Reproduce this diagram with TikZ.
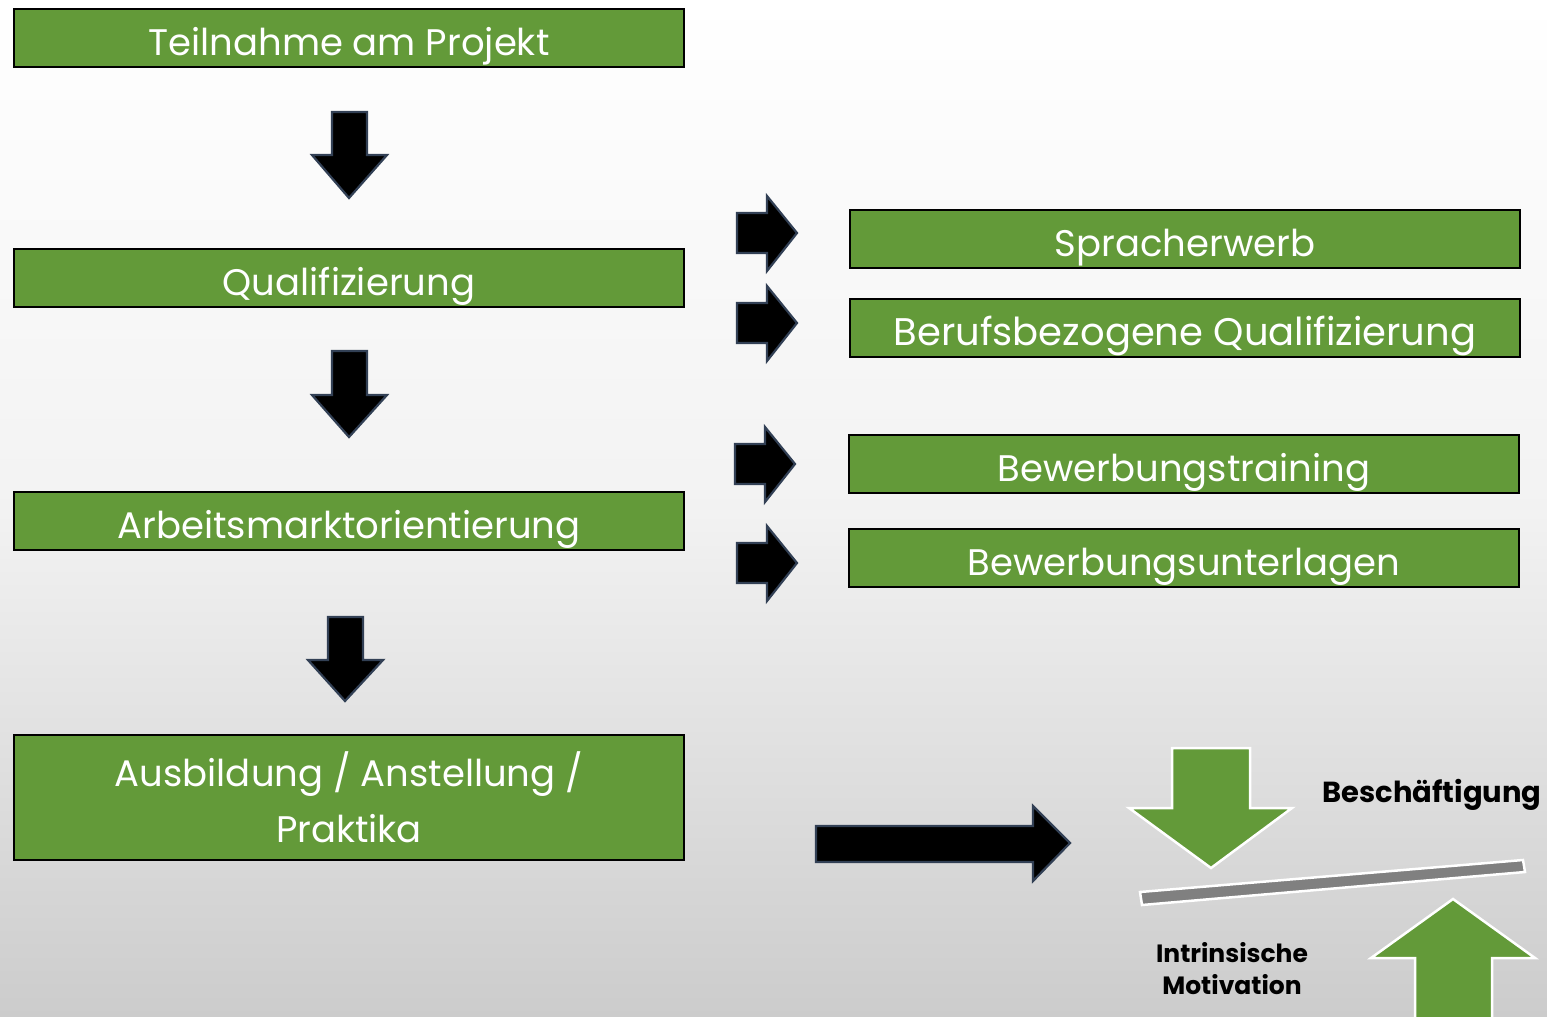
\documentclass[tikz,border=0pt]{standalone}
\usepackage{fontspec}
\setmainfont{Poppins}
\begin{document}
\begin{tikzpicture}[x=1pt,y=-1pt,
  greenbox/.style={draw=black, line width=2.2pt, fill=boxgreen, text=white, inner sep=0pt},
  onebox/.style={greenbox, boxtext, minimum width=670pt, minimum height=58pt, text height=34pt, text depth=0pt},
  blockarrow/.style={fill=black, draw=arrowedge, line width=2.2pt, line join=miter},
  greenarrow/.style={fill=boxgreen, draw=white, line width=2.5pt, line join=miter},
  boxtext/.style={font=\fontsize{37}{56}\selectfont},
  lbl/.style={font=\fontsize{27}{32}\selectfont\bfseries, text=black, align=center}]
\definecolor{boxgreen}{RGB}{99,154,57}
\definecolor{arrowedge}{RGB}{50,64,85}
\shade[top color=white, bottom color=black!20, middle color=white!95!black] (0,0) rectangle (1547,1017);
\useasboundingbox (0,0) rectangle (1547,1017);

% left column boxes
\node[onebox] (teil) at (349,38) {Teilnahme am Projekt};
\node[onebox] (qual) at (349,278) {Qualifizierung};
\node[onebox] (arb) at (349,521) {Arbeitsmarktorientierung};
\node[greenbox, boxtext, minimum width=670pt, minimum height=125pt, align=center] (ausb) at (349,797.5) {Ausbildung / Anstellung /\\Praktika};

% right column boxes
\node[onebox] (spr) at (1185,239) {Spracherwerb};
\node[onebox, font=\fontsize{38.5}{56}\selectfont] (ber) at (1185,328) {Berufsbezogene Qualifizierung};
\node[onebox] (bewt) at (1184,464) {Bewerbungstraining};
\node[onebox] (bewu) at (1184,558) {Bewerbungsunterlagen};

% down block arrows
\draw[blockarrow] (332,112) -- (367,112) -- (367,155) -- (387,155) -- (349,198) -- (312,155) -- (332,155) -- cycle;
\draw[blockarrow] (332,351) -- (367,351) -- (367,395) -- (387,395) -- (349,437) -- (312,395) -- (332,395) -- cycle;
\draw[blockarrow] (328,617) -- (363,617) -- (363,660) -- (383,660) -- (345,701) -- (308,660) -- (328,660) -- cycle;

% right block arrows
\draw[blockarrow] (737,213) -- (767,213) -- (767,196) -- (797,233) -- (767,271) -- (767,253) -- (737,253) -- cycle;
\draw[blockarrow] (737,303) -- (767,303) -- (767,286) -- (797,323) -- (767,361) -- (767,343) -- (737,343) -- cycle;
\draw[blockarrow] (735,444) -- (765,444) -- (765,427) -- (795,464) -- (765,502) -- (765,484) -- (735,484) -- cycle;
\draw[blockarrow] (737,543) -- (767,543) -- (767,526) -- (797,563) -- (767,601) -- (767,583) -- (737,583) -- cycle;

% big right arrow
\draw[blockarrow] (816,826) -- (1033,826) -- (1033,806) -- (1070,843) -- (1033,881) -- (1033,862) -- (816,862) -- cycle;

% balance
\draw[greenarrow] (1172,748) -- (1250,748) -- (1250,808) -- (1292,808) -- (1211,868) -- (1129,808) -- (1172,808) -- cycle;
\draw[fill=black!50, draw=white, line width=2.5pt] (1140,892) -- (1523,860) -- (1525,872) -- (1142,905) -- cycle;
\draw[greenarrow] (1415,1030) -- (1415,958) -- (1371,958) -- (1453,899) -- (1535,958) -- (1492,958) -- (1492,1030);

\node[lbl, font=\fontsize{29}{32}\selectfont\bfseries] (besch) at (1432,795) {Beschäftigung};
\node[lbl, font=\fontsize{25}{32}\selectfont\bfseries] (intr) at (1232,969) {Intrinsische\\Motivation};
\end{tikzpicture}
\end{document}
